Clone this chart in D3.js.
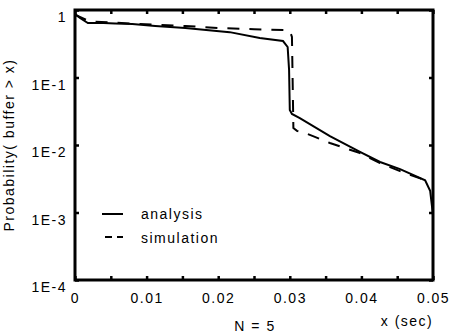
<!DOCTYPE html>
<html>
<head>
<meta charset="utf-8">
<script src="https://cdn.jsdelivr.net/npm/d3@7"></script>
<style>
  body { margin: 0; background: #fff; }
  text { font-family: "Liberation Sans", Arial, sans-serif; font-size: 14px; letter-spacing: 1.5px; fill: #000; }
</style>
</head>
<body>
<svg id="chart"></svg>
<script>
// values
const analysisX = [0, 0.0007, 0.0018, 0.004, 0.0056, 0.008, 0.0112, 0.0154, 0.0216, 0.0258, 0.02905, 0.0297, 0.0299, 0.0300, 0.0303, 0.0314, 0.0356, 0.0398, 0.0426, 0.0454, 0.0489, 0.0496, 0.05]
const analysisP = [0.87, 0.76, 0.64, 0.64, 0.63, 0.62, 0.58, 0.54, 0.47, 0.385, 0.347, 0.283, 0.129, 0.033, 0.0288, 0.0251, 0.0135, 0.0079, 0.0056, 0.0044, 0.003, 0.0021, 0.00092]
const simX = [0, 0.002, 0.008, 0.0154, 0.020, 0.025, 0.0293, 0.0300, 0.0303, 0.0305, 0.0310, 0.0321, 0.0335, 0.0356, 0.0398, 0.0426, 0.0454, 0.0482, 0.0496]
const simP = [0.85, 0.68, 0.63, 0.58, 0.54, 0.52, 0.505, 0.49, 0.4, 0.0179, 0.0162, 0.0151, 0.0132, 0.0107, 0.0076, 0.0054, 0.0041, 0.0032, 0.0027]
const yTicks = [1, 1e-1, 1e-2, 1e-3, 1e-4]
const yTickLabels = ['1', '1E-1', '1E-2', '1E-3', '1E-4']
const xTicks = [0, 0.005, 0.01, 0.015, 0.02, 0.025, 0.03, 0.035, 0.04, 0.045, 0.05]
const xTickLabels = ['0', '', '0.01', '', '0.02', '', '0.03', '', '0.04', '', '0.05']
const legendNames = ['analysis', 'simulation']

const W = 452, H = 336
const m = { left: 75, top: 10, right: 433, bottom: 280 }

const svg = d3.select('#chart').attr('width', W).attr('height', H)

const x = d3.scaleLinear().domain([0, 0.05]).range([m.left, m.right])
const y = d3.scaleLog().domain([1e-4, 1]).range([m.bottom, m.top])

const tickStyle = g => {
    g.select('.domain').remove()
    g.selectAll('.tick line').attr('stroke', '#000').attr('stroke-width', 2.5)
}

// left axis with labels
svg.append('g')
    .attr('transform', `translate(${m.left},0)`)
    .call(d3.axisLeft(y).tickValues(yTicks).tickSize(-4).tickPadding(8)
        .tickFormat((d, i) => yTickLabels[i]))
    .call(tickStyle)
    .call(g => g.selectAll('.tick text').attr('dy', '0.85em').attr('font-size', 14).attr('font-family', null))

// right axis, ticks only
svg.append('g')
    .attr('transform', `translate(${m.right},0)`)
    .call(d3.axisRight(y).tickValues(yTicks).tickSize(-4).tickFormat(''))
    .call(tickStyle)

// bottom axis
svg.append('g')
    .attr('transform', `translate(0,${m.bottom})`)
    .call(d3.axisBottom(x).tickValues(xTicks).tickSize(-4).tickPadding(13)
        .tickFormat((d, i) => xTickLabels[i]))
    .call(tickStyle)
    .call(g => g.selectAll('.tick text').attr('font-size', 14).attr('font-family', null))

// top axis, ticks only
svg.append('g')
    .attr('transform', `translate(0,${m.top})`)
    .call(d3.axisTop(x).tickValues(xTicks).tickSize(-4).tickFormat(''))
    .call(tickStyle)

// frame
svg.append('rect')
    .attr('x', m.left).attr('y', m.top)
    .attr('width', m.right - m.left).attr('height', m.bottom - m.top)
    .attr('fill', 'none').attr('stroke', '#000').attr('stroke-width', 3)

const line = d3.line().x(d => x(d[0])).y(d => y(d[1]))

svg.append('path')
    .datum(d3.zip(analysisX, analysisP))
    .attr('d', line)
    .attr('fill', 'none').attr('stroke', '#000').attr('stroke-width', 2)

svg.append('path')
    .datum(d3.zip(simX, simP))
    .attr('d', line)
    .attr('fill', 'none').attr('stroke', '#000').attr('stroke-width', 2)
    .attr('stroke-dasharray', '12,10')

// legend
const leg = svg.append('g')
leg.append('line').attr('x1', 102).attr('x2', 123).attr('y1', 214).attr('y2', 214)
    .attr('stroke', '#000').attr('stroke-width', 2)
leg.append('line').attr('x1', 105).attr('x2', 123).attr('y1', 237).attr('y2', 237)
    .attr('stroke', '#000').attr('stroke-width', 2).attr('stroke-dasharray', '7,5')
leg.selectAll('text').data(legendNames).join('text')
    .attr('x', 141).attr('y', (d, i) => 219 + i * 24)
    .text(d => d)

// axis titles
svg.append('text')
    .attr('transform', 'translate(14,145) rotate(-90)')
    .attr('text-anchor', 'middle')
    .text('Probability( buffer > x)')

svg.append('text')
    .attr('x', 407).attr('y', 326)
    .attr('text-anchor', 'middle')
    .text('x (sec)')

svg.append('text')
    .attr('x', 255).attr('y', 331)
    .attr('text-anchor', 'middle')
    .text('N = 5')
</script>
</body>
</html>
